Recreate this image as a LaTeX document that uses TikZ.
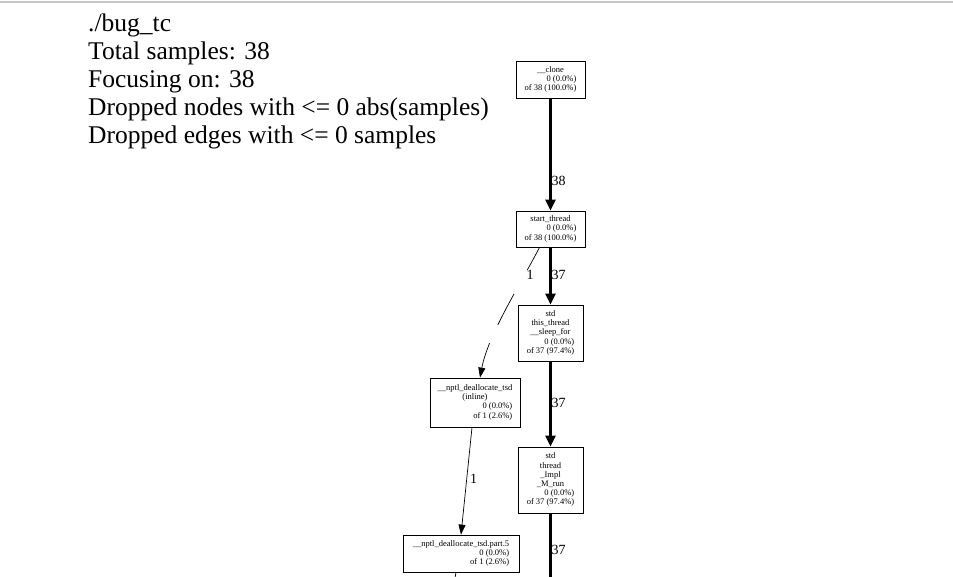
\documentclass[tikz,border=0pt]{standalone}
\usepackage{fontspec}
\setmainfont{Liberation Serif}
\usetikzlibrary{arrows.meta,calc}
\newcommand\ctr[1]{\multicolumn{1}{@{}c@{}}{#1}\\}
\tikzset{
  fn/.style={draw, line width=0.8pt, inner sep=0pt, font=\fontsize{8.5}{9.2}\selectfont},
  heavy/.style={line width=2.4pt, -{Triangle[length=11pt,width=10pt]}},
  heavyline/.style={line width=2.4pt},
  light/.style={line width=0.7pt, -{Triangle[length=10pt,width=7pt]}},
  lightline/.style={line width=0.7pt},
  elab/.style={font=\fontsize{14}{14}\selectfont, inner sep=0pt},
  hdr/.style={font=\fontsize{25.5}{28}\selectfont, anchor=base west, inner sep=0pt}
}
\begin{document}
\begin{tikzpicture}[x=1pt,y=-1pt]
\fill[white] (0,0) rectangle (953,576);
\useasboundingbox (0,0) rectangle (953,576);
\draw[black!22, line width=1.2pt] (0,2) -- (953,2);
% header
\node[hdr] (h1) at (88,31) {./bug\_tc};
\node[hdr] (h2) at (88,59) {Total samples: 38};
\node[hdr] (h3) at (88,87) {Focusing on: 38};
\node[hdr] (h4) at (88,115) {Dropped nodes with <= 0 abs(samples)};
\node[hdr] (h5) at (88,143) {Dropped edges with <= 0 samples};
% nodes
\node[fn, minimum width=69pt, minimum height=37pt] (cl) at (550.5,79.5)
  {\begin{tabular}{@{}r@{}}\ctr{\_\_clone}0 (0.0\%)\\of 38 (100.0\%)\end{tabular}};
\node[fn, minimum width=69pt, minimum height=36pt] (st) at (550.5,229)
  {\begin{tabular}{@{}r@{}}\ctr{start\_thread}0 (0.0\%)\\of 38 (100.0\%)\end{tabular}};
\node[fn, minimum width=65pt, minimum height=56pt] (sl) at (550.5,333)
  {\begin{tabular}{@{}r@{}}\ctr{std}\ctr{this\_thread}\ctr{\_\_sleep\_for}0 (0.0\%)\\of 37 (97.4\%)\end{tabular}};
\node[fn, minimum width=65pt, minimum height=66pt] (mr) at (550.5,480)
  {\begin{tabular}{@{}r@{}}\ctr{std}\ctr{thread}\ctr{\_Impl}\ctr{\_M\_run}0 (0.0\%)\\of 37 (97.4\%)\end{tabular}};
\node[fn, minimum width=90pt, minimum height=49pt] (nd) at (475,402.5)
  {\begin{tabular}{@{}r@{}}\ctr{\_\_nptl\_deallocate\_tsd}\ctr{(inline)}0 (0.0\%)\\of 1 (2.6\%)\end{tabular}};
\node[fn, minimum width=116pt, minimum height=37pt] (p5) at (461,553.5)
  {\begin{tabular}{@{}r@{}}\ctr{\_\_nptl\_deallocate\_tsd.part.5}0 (0.0\%)\\of 1 (2.6\%)\end{tabular}};
\coordinate (mrout) at (550.5,600);
\coordinate (p5out) at (451,600);
% edges
\draw[heavy] (cl) -- (st);
\draw[heavy] (st) -- (sl);
\draw[heavy] (sl) -- (mr);
\draw[heavyline] (mr) -- (mrout);
\draw[light, dash pattern=on 26pt off 27pt on 35pt off 20pt on 80pt]
  ([xshift=-11pt]st.south) .. controls (520,285) and (488,335) .. ([xshift=5pt]nd.north);
\draw[light] ([xshift=-3pt]nd.south) -- (p5.north);
\draw[lightline] ([xshift=-5pt]p5.south) -- (p5out);
% edge labels
\node[elab] (l1) at (558.5,181) {38};
\node[elab] (l2) at (558.5,275) {37};
\node[elab] (l3) at (530,275) {1};
\node[elab] (l4) at (558.5,403) {37};
\node[elab] (l5) at (473.5,479) {1};
\node[elab] (l6) at (558.5,550) {37};
\end{tikzpicture}
\end{document}
